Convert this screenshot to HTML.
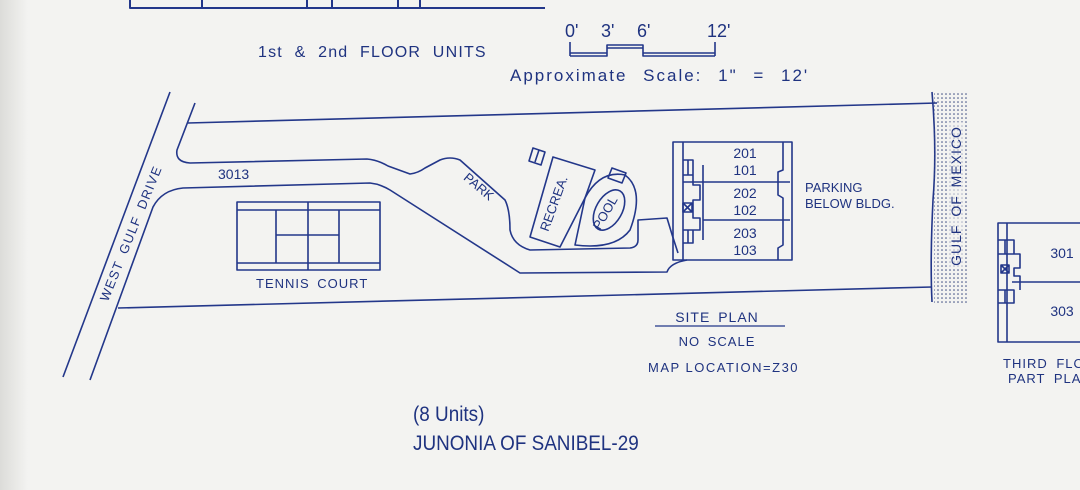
<!DOCTYPE html>
<html><head><meta charset="utf-8"><style>
html,body{margin:0;padding:0;background:#f3f3f1;}
svg{display:block;}
text{font-family:"Liberation Sans",sans-serif;fill:#1f3380;}
</style></head><body>
<svg width="1080" height="490" viewBox="0 0 1080 490" xmlns="http://www.w3.org/2000/svg">
<defs>
<linearGradient id="edge" x1="0" x2="1"><stop offset="0" stop-color="#dcdcd9"/><stop offset="1" stop-color="#f3f3f1"/></linearGradient>
<pattern id="dots" width="4" height="4" patternUnits="userSpaceOnUse"><circle cx="2" cy="2" r="0.8" fill="#3a4a80"/></pattern>
</defs>
<rect width="1080" height="490" fill="#f3f3f1"/>
<rect width="28" height="490" fill="url(#edge)"/>
<g fill="none" stroke="#23378a" stroke-width="1.6" stroke-linejoin="round">
<path d="M130 0 V8 H545 M202 0V8 M307 0V8 M332 0V8 M398 0V8 M420 0V8" stroke-width="2"/>
<path d="M570 42V56 M715 42V56 M570 53H607V45H643V53H715 M570 56H607V48H643V56H715"/>
<path d="M170 92 L63 377"/>
<path d="M195 103 L177 150 Q175 162 190 163 L367 159 Q378 160 388 166 L410 174 Q418 173 425 168 L440 160 Q450 156 460 160 L505 200 Q510 210 510 230 Q513 245 530 250 L630 248 Q638 247 638 240 V220 L667 218 Q672 235 678 253"/>
<path d="M90 380 L153 207 Q162 190 183 188 L370 183 Q380 184 390 190 L520 273 L667 272 Q670 263 687 260"/>
<path d="M188 123 L937 103"/>
<path d="M118 308 L932 287"/>
<rect x="237" y="202" width="143" height="68"/>
<path d="M237 210H380 M237 263H380 M308 202V270 M276 210V263 M339 210V263 M276 235H339"/>
<path d="M553 157 L595 170 L585 198 L560 247 L530 237 Z"/>
<path d="M533 148 l12 4 l-4 13 l-12 -4 Z M539 150 l-4 12"/>
<path d="M612 168 l14 5 l-4 10 l-14 -5 Z"/>
<path d="M585 198 Q600 170 625 175 Q645 190 630 230 Q615 250 575 245 Z"/>
<ellipse cx="609" cy="210" rx="13" ry="22" transform="rotate(30 609 210)"/>
<rect x="673" y="142" width="119" height="118"/>
<path d="M683 142V260 M683 182H790 M703 182V220 M703 220H790 M703 165V182 M703 220V240 M783 142V170 L778 172 V195 L783 198 V245 L778 248 V260"/>
<path d="M683 160 H693 V175 H683 M688 160V175 M683 230 H693 V243 H683 M688 230V243 M693 175 V185 H700 V200 H693 V218 H700 V230 H693"/>
<rect x="683" y="203" width="9" height="9"/><path d="M683 203l9 9M692 203l-9 9"/>
<path d="M932 92 Q937 150 933 200 Q930 260 932 302"/>
<path d="M1080 223 H998 V342 H1080 M1007 223V342 M1012 282H1080 M998 240H1014V254H998 M1005 240V254 M998 290H1014V303H998 M1005 290V303 M1014 254 H1020 V268 H1014 V276 H1020 V290 M1001 265h8v8h-8z M1001 265l8 8M1009 265l-8 8"/>
<path d="M655 326 H785" stroke-width="1.3"/>
</g>
<rect x="934" y="93" width="34" height="210" fill="url(#dots)"/>
<rect x="948" y="122" width="16" height="146" fill="#f3f3f1" opacity="0.6"/>
<g font-size="16">
<text x="258" y="57" letter-spacing="1.2" word-spacing="6">1st &amp; 2nd FLOOR UNITS</text>
<text x="510" y="81" font-size="17" letter-spacing="2" word-spacing="9">Approximate Scale: 1" = 12'</text>
<g font-size="18"><text x="565" y="37">0'</text><text x="601" y="37">3'</text><text x="637" y="37">6'</text><text x="707" y="37">12'</text></g>
</g>
<g font-size="13">
<text x="135" y="235" text-anchor="middle" transform="rotate(-68 135 235)" letter-spacing="1.2" word-spacing="4">WEST GULF DRIVE</text>
<text x="218" y="179" font-size="14">3013</text>
<text x="476" y="190" text-anchor="middle" transform="rotate(40 476 190)">PARK</text>
<text x="558" y="205" text-anchor="middle" transform="rotate(-70 558 205)">RECREA.</text>
<text x="609" y="215" text-anchor="middle" transform="rotate(-60 609 215)">POOL</text>
<text x="256" y="288" letter-spacing="1" word-spacing="3">TENNIS COURT</text>
<text x="961" y="196" text-anchor="middle" transform="rotate(-90 961 196)" font-size="14" letter-spacing="1" word-spacing="3">GULF OF MEXICO</text>
</g>
<g font-size="14" text-anchor="middle">
<text x="745" y="158">201</text><text x="745" y="175">101</text>
<text x="745" y="198">202</text><text x="745" y="215">102</text>
<text x="745" y="238">203</text><text x="745" y="255">103</text>
<text x="1062" y="258">301</text><text x="1062" y="316">303</text>
</g>
<g font-size="13">
<text x="805" y="192">PARKING</text><text x="805" y="208">BELOW BLDG.</text>
<text x="717" y="322" text-anchor="middle" font-size="14" letter-spacing="1" word-spacing="3">SITE PLAN</text>
<text x="717" y="346" text-anchor="middle" letter-spacing="1" word-spacing="3">NO SCALE</text>
<text x="648" y="372" letter-spacing="1.5">MAP LOCATION=Z30</text>
<text x="1003" y="368" letter-spacing="1" word-spacing="4">THIRD FLOOR</text><text x="1008" y="383" letter-spacing="1" word-spacing="4">PART PLAN</text>
</g>
<g font-size="21" transform="translate(413 0) scale(0.9 1)">
<text x="0" y="421">(8 Units)</text>
<text x="0" y="450">JUNONIA OF SANIBEL-29</text>
</g>
</svg>
</body></html>
